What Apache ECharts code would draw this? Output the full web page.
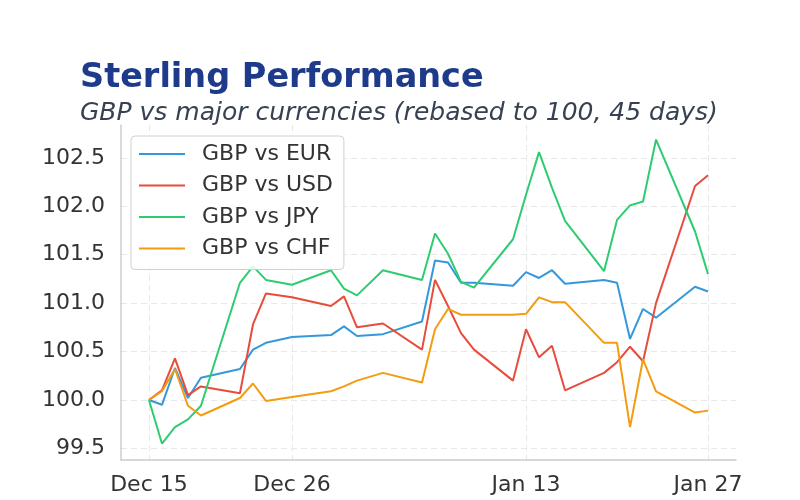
<!DOCTYPE html>
<html>
<head>
<meta charset="utf-8">
<script src="https://cdn.jsdelivr.net/npm/echarts@6/dist/echarts.min.js"></script>
<style>
  html, body { margin: 0; padding: 0; background: #fff; }
  #chart { width: 800px; height: 500px; }
</style>
</head>
<body>
<div id="chart"></div>
<script>
// trading days (Dec 25 and Jan 1 skipped)
const dates = [
  '2025-12-15', '2025-12-16', '2025-12-17', '2025-12-18', '2025-12-19',
  '2025-12-22', '2025-12-23', '2025-12-24', '2025-12-26',
  '2025-12-29', '2025-12-30', '2025-12-31', '2026-01-02',
  '2026-01-05', '2026-01-06', '2026-01-07', '2026-01-08', '2026-01-09',
  '2026-01-12', '2026-01-13', '2026-01-14', '2026-01-15', '2026-01-16',
  '2026-01-19', '2026-01-20', '2026-01-21', '2026-01-22', '2026-01-23',
  '2026-01-26', '2026-01-27'
]

const seriesNames = ['GBP vs EUR', 'GBP vs USD', 'GBP vs JPY', 'GBP vs CHF']

const eur = [100.00, 99.95, 100.33, 100.02, 100.23, 100.32, 100.52, 100.59, 100.65,
  100.67, 100.76, 100.66, 100.68, 100.81, 101.44, 101.42, 101.21, 101.21,
  101.18, 101.32, 101.26, 101.34, 101.20, 101.24, 101.21, 100.63, 100.94, 100.85,
  101.17, 101.12]
const usd = [100.00, 100.10, 100.43, 100.05, 100.14, 100.07, 100.78, 101.10, 101.06,
  100.97, 101.07, 100.75, 100.79, 100.52, 101.24, 100.97, 100.69, 100.52,
  100.20, 100.73, 100.44, 100.56, 100.10, 100.28, 100.39, 100.55, 100.40, 101.00,
  102.21, 102.32]
const jpy = [100.00, 99.55, 99.72, 99.80, 99.94, 101.21, 101.38, 101.24, 101.19,
  101.34, 101.15, 101.08, 101.34, 101.24, 101.72, 101.51, 101.22, 101.16,
  101.66, 102.12, 102.56, 102.19, 101.85, 101.33, 101.86, 102.01, 102.05, 102.69,
  101.74, 101.30]
const chf = [100.00, 100.09, 100.32, 99.94, 99.84, 100.02, 100.17, 99.99, 100.03,
  100.09, 100.14, 100.20, 100.28, 100.18, 100.73, 100.94, 100.88, 100.88,
  100.88, 100.89, 101.06, 101.01, 101.01, 100.59, 100.59, 99.72, 100.42, 100.09,
  99.87, 99.89]

const xTickDates = ['2025-12-15', '2025-12-26', '2026-01-13', '2026-01-27']
const yTicks = [99.5, 100.0, 100.5, 101.0, 101.5, 102.0, 102.5]

const colors = ['#3498db', '#e74c3c', '#2ecc71', '#f39c12']
const months = ['Jan', 'Feb', 'Mar', 'Apr', 'May', 'Jun', 'Jul', 'Aug', 'Sep', 'Oct', 'Nov', 'Dec']
const DAY = 24 * 3600 * 1000

function toTime(s) {
  const p = s.split('-').map(Number)
  return +new Date(p[0], p[1] - 1, p[2])
}

const chart = echarts.init(document.getElementById('chart'), null, { renderer: 'canvas' })

const values = [eur, usd, jpy, chf]
const series = seriesNames.map((name, i) => ({
  name: name,
  type: 'line',
  showSymbol: false,
  color: colors[i],
  lineStyle: { width: 2, color: colors[i] },
  data: dates.map((d, k) => [toTime(d), values[i][k]])
}))

const xTicks = xTickDates.map(toTime)

chart.setOption({
  animation: false,
  backgroundColor: '#ffffff',
  textStyle: { fontFamily: 'DejaVu Sans' },
  title: {
    text: 'Sterling Performance',
    subtext: 'GBP vs major currencies (rebased to 100, 45 days)',
    left: 80,
    top: 61,
    itemGap: 6,
    padding: 0,
    textStyle: { fontSize: 33.5, fontWeight: 'bold', color: '#1e3a8a', fontFamily: 'DejaVu Sans' },
    subtextStyle: { fontSize: 25, fontStyle: 'italic', color: '#374151', fontFamily: 'DejaVu Sans' }
  },
  legend: {
    orient: 'vertical',
    left: 131,
    top: 136,
    padding: [7, 11, 10, 8],
    itemGap: 9.5,
    itemWidth: 46,
    itemHeight: 2,
    icon: 'rect',
    backgroundColor: 'rgba(255,255,255,0.85)',
    borderColor: '#d0d0d0',
    borderWidth: 1,
    borderRadius: 4,
    textStyle: { fontSize: 22, color: '#333333', fontFamily: 'DejaVu Sans', padding: [0, 0, 0, 12] },
    data: seriesNames
  },
  grid: { left: 121, right: 64, top: 125, bottom: 40 },
  xAxis: {
    type: 'value',
    min: xTicks[0] - 2.15 * DAY,
    max: xTicks[3] + 2.15 * DAY,
    axisLine: { show: true, lineStyle: { color: '#cccccc', width: 1.5 } },
    axisTick: { show: false, customValues: xTicks },
    axisLabel: {
      customValues: xTicks,
      fontSize: 22,
      color: '#333333',
      margin: 14,
      formatter: v => {
        const d = new Date(v)
        return months[d.getMonth()] + ' ' + d.getDate()
      }
    },
    splitLine: { show: true, lineStyle: { color: '#e8e8e8', type: [6, 4], width: 1 } }
  },
  yAxis: {
    type: 'value',
    min: 99.38,
    max: 102.84,
    axisLine: { show: true, lineStyle: { color: '#cccccc', width: 1.5 } },
    axisTick: { show: false, customValues: yTicks },
    axisLabel: {
      customValues: yTicks,
      fontSize: 22,
      color: '#333333',
      margin: 16,
      formatter: v => v.toFixed(1)
    },
    splitLine: { show: true, lineStyle: { color: '#e8e8e8', type: [6, 4], width: 1 } }
  },
  series: series
})
</script>
</body>
</html>
